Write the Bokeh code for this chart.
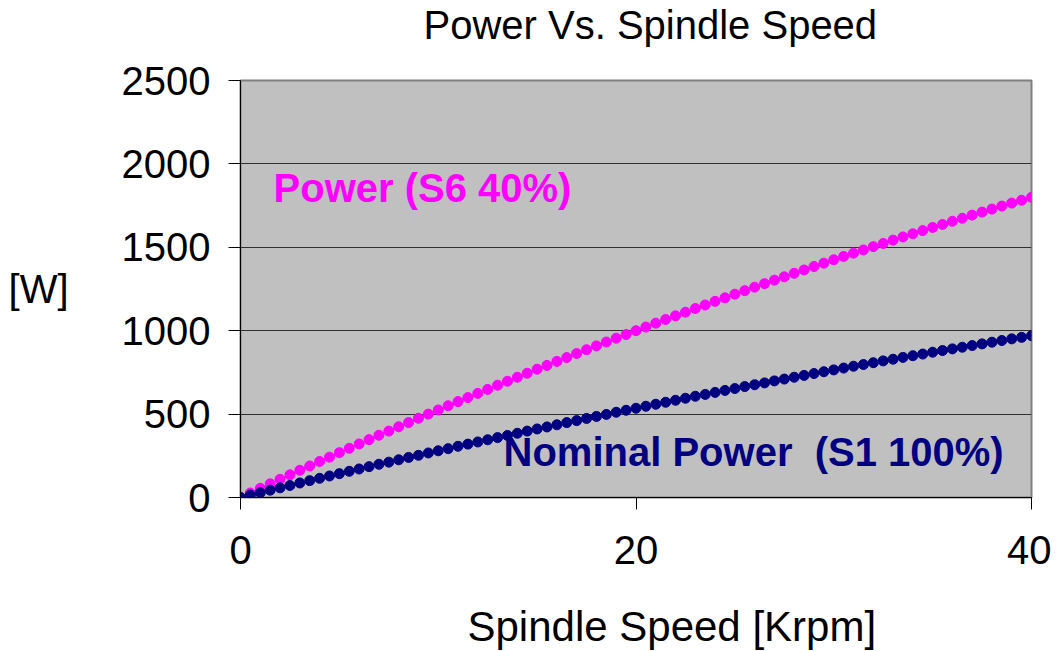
from bokeh.plotting import figure
from bokeh.models import Range1d, Label, FixedTicker, Title
from bokeh.embed import file_html
from bokeh.resources import INLINE

# Spindle speed [Krpm], sampled every 0.5 krpm
speed = [i * 0.5 for i in range(81)]

# Power (S6 40%) [W]
power_s6 = [0, 27, 55, 82, 109, 136, 163, 189, 216, 242,
            269, 295, 321, 347, 373, 398, 424, 449, 475, 500,
            525, 550, 575, 599, 624, 648, 673, 697, 721, 745,
            769, 792, 816, 839, 863, 886, 909, 932, 955, 977,
            1000, 1022, 1045, 1067, 1089, 1111, 1133, 1154, 1176, 1197,
            1219, 1240, 1261, 1282, 1303, 1323, 1344, 1364, 1385, 1405,
            1425, 1445, 1465, 1484, 1504, 1523, 1543, 1562, 1581, 1600,
            1619, 1637, 1656, 1674, 1693, 1711, 1729, 1747, 1765, 1782,
            1800]

# Nominal Power (S1 100%) [W]
power_s1 = [0, 15, 29, 44, 58, 72, 87, 101, 115, 129,
            143, 157, 171, 185, 199, 212, 226, 240, 253, 267,
            280, 293, 307, 320, 333, 346, 359, 372, 385, 398,
            411, 423, 436, 449, 461, 474, 486, 498, 511, 523,
            535, 547, 559, 571, 583, 595, 607, 618, 630, 642,
            653, 665, 676, 687, 699, 710, 721, 732, 743, 754,
            765, 776, 787, 797, 808, 819, 829, 840, 850, 860,
            871, 881, 891, 901, 911, 921, 931, 941, 951, 960,
            970]

x_ticks = [0, 20, 40]
y_ticks = [0, 500, 1000, 1500, 2000, 2500]

FONT = "Liberation Sans"
PINK = "#FF00FF"
NAVY = "#000080"

p = figure(width=1051, height=651, output_backend="svg", toolbar_location=None,
           x_range=Range1d(0, 40), y_range=Range1d(0, 2500),
           min_border_left=240, min_border_right=20,
           min_border_top=79, min_border_bottom=154,
           title=None)

p.background_fill_color = "#C0C0C0"
p.border_fill_color = "white"
p.outline_line_color = "#808080"
p.outline_line_width = 2

p.xgrid.visible = False
p.ygrid.ticker = FixedTicker(ticks=y_ticks)
p.ygrid.grid_line_color = "#303030"
p.ygrid.grid_line_width = 1

for ax in (p.xaxis, p.yaxis):
    ax.major_tick_out = 12
    ax.major_tick_in = 0
    ax.minor_tick_line_color = None
    ax.axis_line_color = "black"
    ax.major_tick_line_color = "black"
    ax.major_label_text_font = FONT
    ax.major_label_text_font_size = "40px"
    ax.major_label_text_color = "black"

p.xaxis.ticker = FixedTicker(ticks=x_ticks)
p.yaxis.ticker = FixedTicker(ticks=y_ticks)
p.xaxis.major_label_standoff = 26
p.yaxis.major_label_standoff = 18

p.yaxis.axis_label = "[W]"
p.yaxis.axis_label_orientation = "horizontal"
p.yaxis.axis_label_text_font = FONT
p.yaxis.axis_label_text_font_size = "40px"
p.yaxis.axis_label_text_font_style = "normal"
p.yaxis.axis_label_text_color = "black"
p.yaxis.axis_label_standoff = 50

# spacer panels (blank) so that titles sit further from the frame
p.add_layout(Title(text=" ", text_font_size="20px", standoff=10), "above")
p.add_layout(Title(text="Power Vs. Spindle Speed", align="left", offset=183,
                   standoff=0, text_font=FONT, text_font_size="40px",
                   text_font_style="normal", text_color="black"), "above")

p.add_layout(Title(text=" ", text_font_size="20px", standoff=10), "below")
p.add_layout(Title(text="Spindle Speed [Krpm]", align="left", offset=227,
                   standoff=0, text_font=FONT, text_font_size="42px",
                   text_font_style="normal", text_color="black"), "below")

p.line(speed, power_s6, line_color=PINK, line_width=2)
p.scatter(speed, power_s6, size=10, fill_color=PINK, line_color=PINK)
p.line(speed, power_s1, line_color=NAVY, line_width=2)
p.scatter(speed, power_s1, size=10, fill_color=NAVY, line_color=NAVY)

p.add_layout(Label(x=1.67, y=1854, text="Power (S6 40%)",
                   text_align="left", text_baseline="middle",
                   text_font=FONT, text_font_size="40px", text_font_style="bold",
                   text_color=PINK))
p.add_layout(Label(x=13.3, y=275, text="Nominal Power\u00a0 (S1 100%)",
                   text_align="left", text_baseline="middle",
                   text_font=FONT, text_font_size="40px", text_font_style="bold",
                   text_color=NAVY))

open("out.html", "w").write(file_html(p, INLINE))
